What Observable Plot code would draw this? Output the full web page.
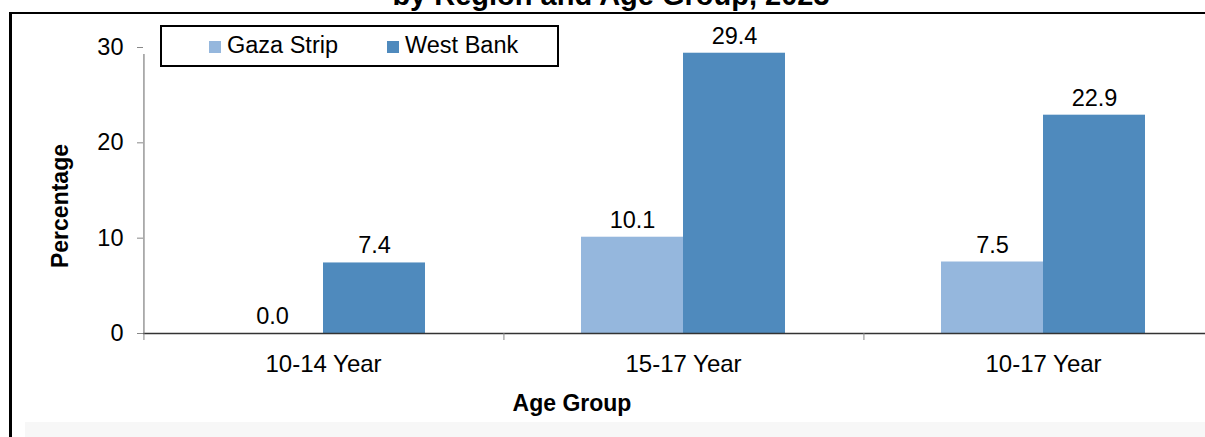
<!DOCTYPE html>
<html>
<head>
<meta charset="utf-8">
<script src="https://cdn.jsdelivr.net/npm/d3@7"></script>
<script src="https://cdn.jsdelivr.net/npm/@observablehq/plot@0.6"></script>
<style>
  html, body { margin: 0; padding: 0; width: 1205px; height: 437px; overflow: hidden; background: #fff; }
  #root { position: relative; width: 1205px; height: 437px; overflow: hidden;
          font-family: "Liberation Sans", Arial, sans-serif; color: #000; }
  #frame { position: absolute; left: 9px; top: 12px; width: 1196px; height: 425px;
           border-left: 3px solid #000; border-top: 2px solid #000; box-sizing: border-box; }
  #shade { position: absolute; left: 25px; top: 422px; width: 1180px; height: 15px; background: #f7f7f7; }
  #title { position: absolute; left: 0; width: 1222px; text-align: center; font-weight: bold;
           font-size: 29px; line-height: 29px; top: -19px; white-space: nowrap; }
  #chart { position: absolute; left: 0; top: 0; width: 1205px; height: 437px; overflow: hidden; }
  #chart svg { max-width: none !important; width: 1223px !important; height: 437px !important; }
  #legend { position: absolute; left: 160px; top: 25px; width: 399px; height: 42px; box-sizing: border-box;
            border: 2px solid #000; background: #fff; }
  .sw { position: absolute; width: 12px; height: 12px; top: 14px; }
  .lt { position: absolute; font-size: 23.5px; line-height: 23px; top: 7px; white-space: nowrap; }
  #ylab { position: absolute; left: 60px; top: 206px; transform: translate(-50%, -50%) rotate(-90deg);
          font-weight: bold; font-size: 23px; line-height: 23px; white-space: nowrap; }
  #xlab { position: absolute; left: 572px; top: 392px; transform: translateX(-50%);
          font-weight: bold; font-size: 23px; line-height: 23px; white-space: nowrap; }
</style>
</head>
<body>
<div id="root">
<div id="frame"></div>
<div id="shade"></div>
<div id="title">by Region and Age Group, 2023</div>
<div id="chart"></div>
<div id="legend"></div>
<div id="ylab">Percentage</div>
<div id="xlab">Age Group</div>
</div>
<script>
const categories = ["10-14 Year", "15-17 Year", "10-17 Year"];
const series = ["Gaza Strip", "West Bank"];
const gaza = [0.0, 10.1, 7.5];
const westBank = [7.4, 29.4, 22.9];
const colors = ["#95B7DD", "#4F8ABD"];
const yTicks = [0, 10, 20, 30];

const data = categories.flatMap((c, i) => [
  {category: c, series: series[0], value: gaza[i]},
  {category: c, series: series[1], value: westBank[i]}
]);

const W = 1223, mL = 143;
const facetW = (W - mL) / categories.length;
const padOuter = 0.75;
const step = facetW / (series.length + 2 * padOuter);
const firstCenterOffset = padOuter * step + step / 2;

const chart = Plot.plot({
  width: W,
  height: 437,
  marginLeft: mL,
  marginRight: 0,
  marginTop: 47,
  marginBottom: 104,
  style: {fontFamily: "'Liberation Sans', Arial, sans-serif", fontSize: "23px", background: "transparent", overflow: "visible", color: "#000", maxWidth: "none"},
  fx: {domain: categories, padding: 0, label: null},
  x: {domain: series, paddingInner: 0, paddingOuter: padOuter, axis: null},
  y: {domain: [0, 30], axis: null},
  color: {domain: series, range: colors},
  marks: [
    Plot.barY(data, {fx: "category", x: "series", y: "value", fill: "series"}),
    Plot.ruleY([0], {stroke: "#333", strokeWidth: 1.3}),
    Plot.ruleX(categories, {fx: d => d, x: () => series[0], dx: -firstCenterOffset, y1: 0, y2: 0, insetBottom: -7, stroke: "#888"}),
    Plot.ruleX([categories[0]], {fx: d => d, x: () => series[0], dx: -firstCenterOffset, y1: 0, y2: 30, insetBottom: -7, stroke: "#888", strokeWidth: 1.3}),
    Plot.text(data, {fx: "category", x: "series", y: "value", text: d => d.value.toFixed(1), dy: -17, lineAnchor: "middle", fontSize: 23.5, fill: "#000"}),
    Plot.axisY({ticks: yTicks, tickSize: 6, tickPadding: 14, label: null, stroke: "#888", fontSize: 23.5, tickFormat: d => d}),
    Plot.axisFx({anchor: "bottom", tickSize: 0, tickPadding: 21, label: null, fontSize: 24})
  ]
});
document.getElementById("chart").appendChild(chart);

const legend = document.getElementById("legend");
const swLeft = [47, 225], txtLeft = [65, 243];
series.forEach((s, i) => {
  const sw = document.createElement("div");
  sw.className = "sw";
  sw.style.left = swLeft[i] + "px";
  sw.style.background = colors[i];
  legend.appendChild(sw);
  const t = document.createElement("div");
  t.className = "lt";
  t.style.left = txtLeft[i] + "px";
  t.textContent = s;
  legend.appendChild(t);
});
</script>
</body>
</html>
